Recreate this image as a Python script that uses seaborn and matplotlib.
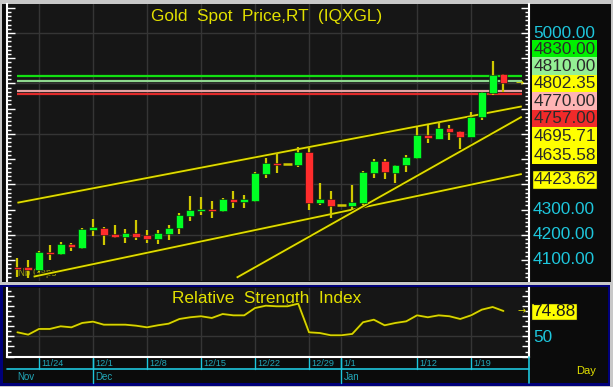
import numpy as np
import pandas as pd
import matplotlib
matplotlib.use("Agg")
import matplotlib.pyplot as plt
import seaborn as sns
from matplotlib.patches import Rectangle
from matplotlib.lines import Line2D
from matplotlib import transforms
import matplotlib.patheffects as pe
from matplotlib.ticker import MultipleLocator

# ---------------- data ----------------
dates = ["11/20", "11/21", "11/24", "11/25", "11/26", "11/27", "11/28",
         "12/1", "12/2", "12/3", "12/4", "12/5",
         "12/8", "12/9", "12/10", "12/11", "12/12",
         "12/15", "12/16", "12/17", "12/18", "12/19",
         "12/22", "12/23", "12/24", "12/25", "12/26",
         "12/29", "12/30", "12/31", "1/1", "1/2",
         "1/5", "1/6", "1/7", "1/8", "1/9",
         "1/12", "1/13", "1/14", "1/15", "1/16",
         "1/19", "1/20", "1/21", "1/22"]
opens = [4072, 4072, 4060, 4133, 4124, 4163, 4146,
         4219, 4228, 4203, 4192, 4208,
         4198, 4183, 4203, 4226, 4274,
         4293, 4303, 4295, 4340, 4330,
         4335, 4442, 4483, 4479, 4477,
         4530, 4325, 4341, 4317, 4314,
         4325, 4446, 4492, 4446, 4477,
         4503, 4596, 4579, 4622, 4613,
         4589, 4668, 4761, 4836]
highs = [4108, 4100, 4137, 4159, 4172, 4168, 4227,
         4262, 4230, 4239, 4222, 4258,
         4219, 4219, 4239, 4285, 4354,
         4349, 4335, 4347, 4373, 4356,
         4450, 4503, 4523, 4479, 4549,
         4549, 4406, 4375, 4317, 4397,
         4454, 4500, 4499, 4477, 4516,
         4628, 4635, 4648, 4635, 4613,
         4688, 4767, 4889, 4836]
lows = [4033, 4028, 4054, 4100, 4119, 4137, 4142,
        4196, 4159, 4188, 4168, 4179,
        4168, 4163, 4179, 4202, 4256,
        4278, 4265, 4291, 4305, 4305,
        4331, 4424, 4444, 4479, 4470,
        4298, 4318, 4265, 4317, 4298,
        4318, 4424, 4420, 4404, 4450,
        4500, 4565, 4579, 4576, 4539,
        4589, 4655, 4754, 4767]
closes = [4066, 4059, 4133, 4124, 4163, 4150, 4223,
          4230, 4199, 4192, 4208, 4192,
          4183, 4208, 4228, 4278, 4298,
          4303, 4293, 4340, 4330, 4340,
          4444, 4483, 4476, 4479, 4530,
          4325, 4341, 4314, 4317, 4330,
          4450, 4492, 4450, 4477, 4510,
          4596, 4584, 4622, 4609, 4589,
          4668, 4765, 4833, 4802.35]
rsi = [53.9, 51.6, 57.2, 57.2, 59.8, 58.8, 63.1,
       64.4, 61.4, 61.4, 61.4, 60.4,
       58.8, 60.8, 62.4, 67.0, 68.7,
       69.7, 68.0, 71.9, 70.6, 70.6,
       77.8, 80.1, 79.5, 79.5, 82.1,
       53.9, 53.2, 51.0, 51.0, 52.3,
       63.8, 66.3, 60.8, 63.1, 64.7,
       70.6, 68.7, 70.6, 69.7, 67.0,
       70.6, 76.2, 78.8, 74.88]

week_ticks = [2, 7, 12, 17, 22, 27, 30, 37, 42]
week_labels = ["11/24", "12/1", "12/8", "12/15", "12/22", "12/29", "1/1", "1/12", "1/19"]
month_ticks = [0, 7, 30]
month_labels = ["Nov", "Dec", "Jan"]

level_values = [4830, 4810, 4770, 4757]
level_colors = ["#12E012", "#8ED88E", "#E4A4A4", "#E22A2A"]
level_span = [0, 46.7]

trend_a = ([0, 46.7], [4327, 4709])
trend_b = ([1.5, 46.7], [4034, 4441])
trend_c = ([20.3, 46.7], [4030, 4668])

price_ticks = [4100, 4200, 4300, 4400, 4500, 5000]
grid_prices = [4200, 4400, 4600, 4800, 5000]

box_labels = ["4830.00", "4810.00", "4802.35", "4770.00", "4757.00", "4695.71", "4635.58", "4423.62"]
rsi_last = "74.88"

# ---------------- style ----------------
sns.set_theme(style="dark")
plt.rcParams["font.family"] = ["Liberation Sans", "DejaVu Sans"]

W, H = 613, 387
fig = plt.figure(figsize=(6.13, 3.87), dpi=100, facecolor="#C8C8C8")


def fx(x):
    return x / W


def fy(y):
    return 1 - y / H


def frect(x0, y0, x1, y1, **kw):
    r = Rectangle((fx(x0), fy(y1)), (x1 - x0) / W, (y1 - y0) / H,
                  transform=fig.transFigure, **kw)
    fig.add_artist(r)
    return r


# panel backgrounds
frect(2, 3.5, 610.5, 281.5, facecolor="#0B0B0B", edgecolor="none", zorder=-10)
frect(0, 284.5, 610, 385.5, facecolor="#00007A", edgecolor="none", zorder=-10)
frect(2.5, 287, 607.5, 383, facecolor="#0B0B0B", edgecolor="none", zorder=-9)

XL = (-1.01, 47.32)
CYAN = "#1EC6DC"
TEAL = "#22A8BA"
YEL = "#E2E000"
GRID = "#353535"

# ---------------- main price axes ----------------
ax = fig.add_axes([fx(6.5), fy(281), 522 / W, 277 / H])
ax.set_facecolor("#161616")
ax.set_xlim(*XL)
ax.set_ylim(4016.7, 5115)
for s in ["top", "bottom"]:
    ax.spines[s].set_visible(False)
for s in ["left", "right"]:
    ax.spines[s].set_color("white")
    ax.spines[s].set_linewidth(1.5)
ax.set_xticks([])
ax.yaxis.set_major_locator(MultipleLocator(100))
ax.yaxis.set_minor_locator(MultipleLocator(100 / 6))
ax.tick_params(axis="y", which="both", left=True, right=True, direction="in",
               colors="white", labelleft=False, labelright=False, width=1)
ax.tick_params(axis="y", which="major", length=6)
ax.tick_params(axis="y", which="minor", length=3)
ax.grid(False)

for t in week_ticks:
    ax.axvline(t, color=GRID, lw=1, zorder=0.5)
for g in grid_prices:
    ax.axhline(g, color=GRID, lw=1, zorder=0.5)

ax.text(fx(267), fy(16), "Gold  Spot  Price,RT  (IQXGL)", transform=fig.transFigure,
        color=YEL, fontsize=12.4, ha="center", va="center", zorder=1)
ax.text(0.05, 4050, "Nb Gaps", color="#9A9A10", fontsize=7, ha="left", va="center", zorder=1)

for v, c in zip(level_values, level_colors):
    ax.hlines(v, level_span[0], level_span[1], color=c, lw=1.6, zorder=2)

stroke = [pe.Stroke(linewidth=2.8, foreground="#202000"), pe.Normal()]
for tx, ty in (trend_a, trend_b, trend_c):
    ax.plot(tx, ty, color="#E0DC00", lw=1.3, zorder=2.5, path_effects=stroke,
            solid_capstyle="butt")

df = pd.DataFrame({"i": np.arange(len(dates)), "o": opens, "h": highs,
                   "l": lows, "c": closes})
for r in df.itertuples():
    if r.h > r.l:
        ax.vlines(r.i, r.l, r.h, color="#CFC800", lw=1.6, zorder=3)
    if r.o == r.c:
        ax.hlines(r.o, r.i - 0.38, r.i + 0.38, color="#CFC800", lw=1.8, zorder=4)
    else:
        col = "#00FF24" if r.c > r.o else "#FF2C2C"
        ax.bar(r.i, abs(r.c - r.o), bottom=min(r.o, r.c), width=0.72, color=col,
               edgecolor="#101010", lw=0.4, zorder=4)

blend = transforms.blended_transform_factory(fig.transFigure, ax.transData)
for v in price_ticks:
    ax.text(fx(533), v, f"{v:.2f}", transform=blend, color=CYAN, fontsize=12.4,
            ha="left", va="center", clip_on=False, zorder=5)

# stacked value boxes (figure pixels)
boxes = [
    (40, 57.5, "#00F000", [(box_labels[0], 49)]),
    (57.5, 75, "#94F094", [(box_labels[1], 66.5)]),
    (75, 92.5, "#FFFF00", [(box_labels[2], 84)]),
    (92.5, 110, "#FFB4B4", [(box_labels[3], 101.5)]),
    (110, 127, "#F02A2A", [(box_labels[4], 118.5)]),
    (127, 163.5, "#FFFF00", [(box_labels[5], 136.5), (box_labels[6], 155)]),
]
for top, bot, col, texts in boxes:
    frect(532, top, 597, bot, facecolor=col, edgecolor="none", zorder=10)
    for lab, yc in texts:
        fig.text(fx(564.5), fy(yc), lab, color="#2A2A2A", fontsize=12.4,
                 ha="center", va="center", zorder=11)
frect(532, 170, 597, 189, facecolor="#FFFF00", edgecolor="#101010", lw=1, zorder=10)
fig.text(fx(564.5), fy(179.5), box_labels[7], color="#2A2A2A", fontsize=12.4,
         ha="center", va="center", zorder=11)
fig.text(fx(520), fy(83), "\u2192", color=YEL, fontsize=7, ha="center", va="center",
         family=["DejaVu Sans"], zorder=11)

# ---------------- RSI axes ----------------
ax2 = fig.add_axes([fx(6.5), fy(357), 522 / W, 69 / H])
ax2.set_facecolor("#161616")
ax2.set_xlim(*XL)
ax2.set_ylim(29.6, 97.5)
ax2.spines["top"].set_visible(False)
for s in ["left", "right", "bottom"]:
    ax2.spines[s].set_color("white")
    ax2.spines[s].set_linewidth(1.5)
ax2.set_xticks([])
ax2.yaxis.set_major_locator(MultipleLocator(10))
ax2.yaxis.set_minor_locator(MultipleLocator(5))
ax2.tick_params(axis="y", which="both", left=True, right=True, direction="in",
                colors="white", labelleft=False, labelright=False, width=1)
ax2.tick_params(axis="y", which="major", length=5)
ax2.tick_params(axis="y", which="minor", length=3)
ax2.grid(False)
for t in week_ticks:
    ax2.axvline(t, color=GRID, lw=1, zorder=0.5)
ax2.axhline(50, color=GRID, lw=1, zorder=0.5)

ax2.text(fx(267), fy(298), "Relative  Strength  Index", transform=fig.transFigure,
         color=YEL, fontsize=12.4, ha="center", va="center", zorder=1)
sns.lineplot(x=np.arange(len(rsi)), y=rsi, ax=ax2, color="#D8D400", lw=1.3,
             zorder=3, path_effects=[pe.Stroke(linewidth=2.6, foreground="#202000"), pe.Normal()])
ax2.set_xlabel("")
ax2.set_ylabel("")

fig.text(fx(522), fy(311), "\u2192", color=YEL, fontsize=7, ha="center", va="center",
         family=["DejaVu Sans"], zorder=11)
frect(531, 303, 577, 320, facecolor="#FFFF00", edgecolor="#101010", lw=1, zorder=10)
fig.text(fx(554), fy(311.5), rsi_last, color="#1A1A1A", fontsize=12.4,
         ha="center", va="center", zorder=11)
fig.text(fx(533), fy(338), "50", color=CYAN, fontsize=12.4, ha="left", va="center", zorder=11)
fig.text(fx(586), fy(371), "Day", color=YEL, fontsize=8, ha="center", va="center", zorder=11)

# date axis
bl2 = transforms.blended_transform_factory(ax2.transData, fig.transFigure)
lab_tr = transforms.offset_copy(bl2, fig=fig, x=1.6, y=0, units="points")
for t, lab in zip(week_ticks, week_labels):
    ax2.plot([t, t], [fy(357.5), fy(369)], transform=bl2, color=CYAN, lw=1,
             clip_on=False)
    ax2.text(t, fy(363.5), lab, transform=lab_tr, color=TEAL, fontsize=6.6,
             ha="left", va="center", clip_on=False)
for k, (t, lab) in enumerate(zip(month_ticks, month_labels)):
    if k > 0:
        ax2.plot([t, t], [fy(357.5), fy(383)], transform=bl2, color=CYAN, lw=1,
                 clip_on=False)
    ax2.text(t, fy(377), lab, transform=lab_tr if k > 0 else bl2, color=TEAL,
             fontsize=7, ha="left", va="center", clip_on=False)
fig.add_artist(Line2D([fx(7), fx(529)], [fy(369), fy(369)], transform=fig.transFigure,
                      color=CYAN, lw=1.2, zorder=5))
fig.add_artist(Line2D([fx(529), fx(529)], [fy(357), fy(383)], transform=fig.transFigure,
                      color=CYAN, lw=1.2, zorder=5))

fig.savefig("out.png", dpi=100, facecolor=fig.get_facecolor())
